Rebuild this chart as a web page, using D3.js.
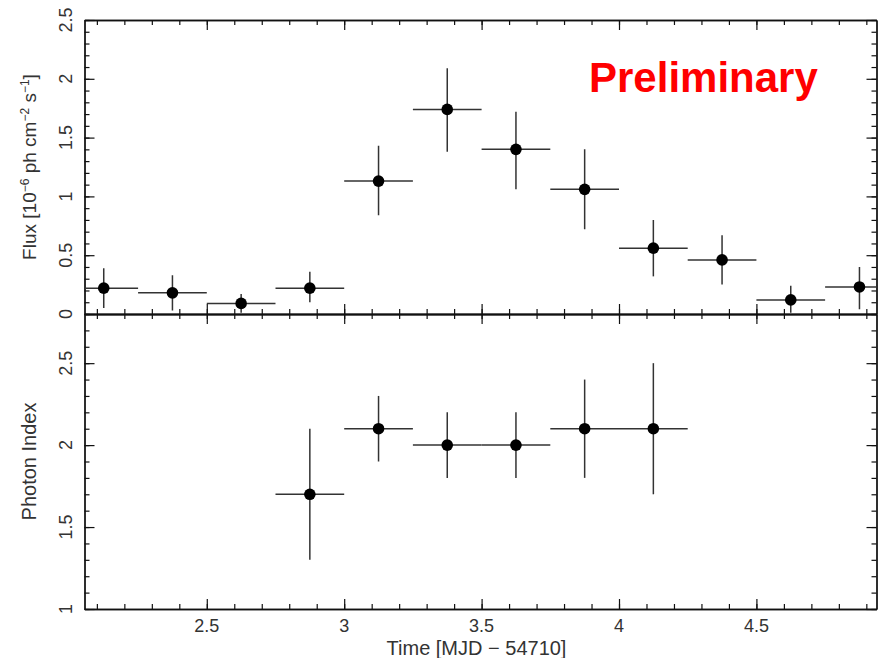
<!DOCTYPE html>
<html>
<head>
<meta charset="utf-8">
<script src="https://cdn.jsdelivr.net/npm/d3@7"></script>
<style>
  body { margin: 0; background: #fff; }
  text { font-family: "Liberation Sans", Arial, sans-serif; }
</style>
</head>
<body>
<svg id="chart" width="878" height="658"></svg>
<script>
// flux light curve, bins of 0.25 day
const fluxTime  = [2.125, 2.375, 2.625, 2.875, 3.125, 3.375, 3.625, 3.875, 4.125, 4.375, 4.625, 4.875];
const fluxValue = [0.22, 0.18, 0.09, 0.22, 1.13, 1.74, 1.40, 1.06, 0.56, 0.46, 0.12, 0.23];
const fluxHigh  = [0.39, 0.33, 0.17, 0.36, 1.43, 2.09, 1.72, 1.40, 0.80, 0.67, 0.24, 0.40];
const fluxLow   = [0.05, 0.03, 0.01, 0.10, 0.84, 1.38, 1.06, 0.72, 0.32, 0.25, 0.01, 0.04];

// photon index
const indexTime  = [2.875, 3.125, 3.375, 3.625, 3.875, 4.125];
const indexValue = [1.70, 2.10, 2.00, 2.00, 2.10, 2.10];
const indexHigh  = [2.10, 2.30, 2.20, 2.20, 2.40, 2.50];
const indexLow   = [1.30, 1.90, 1.80, 1.80, 1.80, 1.70];
const binHalf = 0.125;

const xTicks = [2.5, 3, 3.5, 4, 4.5];
const fluxTicks = [0, 0.5, 1, 1.5, 2, 2.5];
const indexTicks = [1, 1.5, 2, 2.5];

const svg = d3.select("#chart");
const pLeft = 84.5, pRight = 876.5, pTop = 20, pMid = 314, pBottom = 609;

const x = d3.scaleLinear().domain([2.055, 4.937]).range([pLeft, pRight]);
const yFlux = d3.scaleLinear().domain([0, 2.5]).range([pMid, pTop]);
const yIndex = d3.scaleLinear().domain([1, 2.8]).range([pBottom, pMid]);

function minorTicks(scale, step) {
    const [a, b] = scale.domain();
    const out = [];
    for (let v = Math.ceil(a / step - 1e-6) * step; v <= b + 1e-6; v += step) out.push(+v.toFixed(3));
    return out;
}

function frame(y, y0, y1, majors) {
    const g = svg.append("g").attr("class", "frame");
    const xMinor = minorTicks(x, 0.1);
    const yMinor = minorTicks(y, 0.1);
    const specs = [
        [d3.axisBottom, x, `translate(0,${y0})`, xMinor, 5],
        [d3.axisBottom, x, `translate(0,${y0})`, xTicks, 10],
        [d3.axisTop, x, `translate(0,${y1})`, xMinor, 5],
        [d3.axisTop, x, `translate(0,${y1})`, xTicks, 10],
        [d3.axisLeft, y, `translate(${pLeft},0)`, yMinor, 5],
        [d3.axisLeft, y, `translate(${pLeft},0)`, majors, 10],
        [d3.axisRight, y, `translate(${pRight},0)`, yMinor, 5],
        [d3.axisRight, y, `translate(${pRight},0)`, majors, 10]
    ];
    specs.forEach(([ax, sc, tr, vals, len]) => {
        const a = g.append("g").attr("transform", tr)
            .call(ax(sc).tickValues(vals).tickSizeInner(-len).tickSizeOuter(0).tickFormat(""));
        a.select(".domain").attr("stroke", "#111").attr("stroke-width", 1.3);
        a.selectAll(".tick line").attr("stroke", "#111").attr("stroke-width", 1.2);
    });
}

frame(yFlux, pMid, pTop, fluxTicks);
frame(yIndex, pBottom, pMid, indexTicks);

svg.append("defs").append("clipPath").attr("id", "plotclip")
    .append("rect").attr("x", pLeft).attr("y", pTop).attr("width", pRight - pLeft).attr("height", pBottom - pTop);

function drawPoints(times, vals, hi, lo, y) {
    const g = svg.append("g").attr("clip-path", "url(#plotclip)");
    const pts = times.map((t, i) => ({t, v: vals[i], hi: hi[i], lo: lo[i]}));
    g.selectAll(".hbar").data(pts).enter().append("line")
        .attr("x1", d => x(d.t - binHalf)).attr("x2", d => x(d.t + binHalf))
        .attr("y1", d => y(d.v)).attr("y2", d => y(d.v))
        .attr("stroke", "#333").attr("stroke-width", 1.5);
    g.selectAll(".vbar").data(pts).enter().append("line")
        .attr("x1", d => x(d.t)).attr("x2", d => x(d.t))
        .attr("y1", d => y(d.hi)).attr("y2", d => y(d.lo))
        .attr("stroke", "#333").attr("stroke-width", 1.5);
    g.selectAll(".pt").data(pts).enter().append("circle")
        .attr("cx", d => x(d.t)).attr("cy", d => y(d.v)).attr("r", 5.8)
        .attr("fill", "#000");
}

drawPoints(fluxTime, fluxValue, fluxHigh, fluxLow, yFlux);
drawPoints(indexTime, indexValue, indexHigh, indexLow, yIndex);

// tick labels
const labelColor = "#333";
svg.append("g").selectAll("text").data(xTicks).enter().append("text")
    .attr("x", d => x(d)).attr("y", 632)
    .attr("text-anchor", "middle").attr("font-size", 18).attr("fill", labelColor)
    .text(d => d);

function yLabels(vals, y) {
    svg.append("g").selectAll("text").data(vals).enter().append("text")
        .attr("transform", d => `translate(72,${y(d)}) rotate(-90)`)
        .attr("text-anchor", "middle").attr("font-size", 18).attr("fill", labelColor)
        .text(d => d);
}
yLabels(fluxTicks, yFlux);
yLabels(indexTicks, yIndex);

// axis titles
svg.append("text").attr("x", (pLeft + pRight) / 2 - 4).attr("y", 655)
    .attr("text-anchor", "middle").attr("font-size", 20).attr("fill", labelColor)
    .text("Time [MJD \u2212 54710]");

const fluxTitle = svg.append("text")
    .attr("transform", `translate(36,${(pTop + pMid) / 2}) rotate(-90)`)
    .attr("text-anchor", "middle").attr("font-size", 19).attr("fill", labelColor);
fluxTitle.append("tspan").text("Flux [10");
fluxTitle.append("tspan").attr("dy", -7).attr("font-size", 12).text("\u22126");
fluxTitle.append("tspan").attr("dy", 7).text(" ph cm");
fluxTitle.append("tspan").attr("dy", -7).attr("font-size", 12).text("\u22122");
fluxTitle.append("tspan").attr("dy", 7).text(" s");
fluxTitle.append("tspan").attr("dy", -7).attr("font-size", 12).text("\u22121");
fluxTitle.append("tspan").attr("dy", 7).text("]");

svg.append("text")
    .attr("transform", `translate(36,${(pMid + pBottom) / 2}) rotate(-90)`)
    .attr("text-anchor", "middle").attr("font-size", 20).attr("fill", labelColor)
    .text("Photon Index");

svg.append("text").attr("x", 589).attr("y", 92)
    .attr("font-size", 42).attr("font-weight", "bold").attr("fill", "#ff0000")
    .text("Preliminary");
</script>
</body>
</html>
